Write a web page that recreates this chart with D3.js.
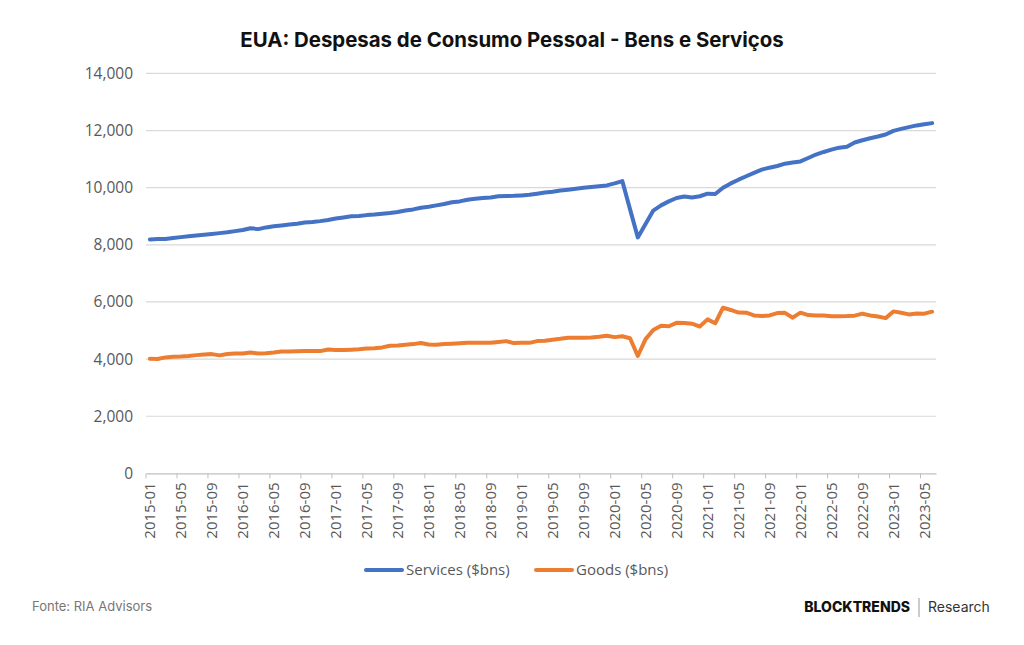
<!DOCTYPE html>
<html>
<head>
<meta charset="utf-8">
<script src="https://cdn.jsdelivr.net/npm/d3@7"></script>
<style>
  body { margin: 0; background: #fff; }
  svg text { font-family: "Open Sans", sans-serif; }
</style>
</head>
<body>
<div id="chart"></div>
<script>
// Monthly data, 2015-01 .. 2023-06 ($ billions, SAAR)
const months = [];
for (let y = 2015; y <= 2023; y++) {
  for (let m = 1; m <= 12; m++) {
    if (y === 2023 && m > 6) break;
    months.push(y + "-" + String(m).padStart(2, "0"));
  }
}

const services = [
  8190, 8200, 8205, 8240, 8270, 8300, 8330, 8355, 8380, 8410, 8440, 8480,
  8520, 8580, 8550, 8610, 8650, 8680, 8710, 8740, 8780, 8800, 8830, 8870,
  8920, 8960, 9000, 9010, 9040, 9060, 9090, 9115, 9150, 9200, 9240, 9300,
  9335, 9380, 9430, 9490, 9520, 9580, 9610, 9640, 9660, 9700, 9710, 9715,
  9730, 9750, 9790, 9830, 9860, 9900, 9930, 9960, 9995, 10020, 10050, 10080,
  10150, 10230, 9240, 8260, 8730, 9200, 9380, 9520, 9640, 9690, 9660, 9700,
  9790, 9780, 10000, 10150, 10280, 10400, 10520, 10630, 10700, 10760, 10840, 10880,
  10920, 11040, 11160, 11250, 11330, 11400, 11430, 11580, 11660, 11730, 11790, 11860,
  11990, 12060, 12120, 12180, 12220, 12260
];

const goods = [
  4010, 4005, 4060, 4080, 4090, 4110, 4140, 4165, 4175, 4130, 4180, 4195,
  4200, 4235, 4195, 4205, 4230, 4265, 4270, 4275, 4280, 4280, 4280, 4335,
  4320, 4315, 4330, 4345, 4370, 4380, 4410, 4470, 4480, 4500, 4525, 4565,
  4510, 4505, 4525, 4540, 4555, 4570, 4570, 4575, 4570, 4600, 4630, 4560,
  4575, 4570, 4630, 4640, 4680, 4710, 4750, 4750, 4750, 4755, 4780, 4820,
  4770, 4800, 4730, 4110, 4700, 5020, 5170, 5150, 5270, 5265, 5240, 5140,
  5390, 5255, 5800, 5720, 5630, 5625, 5530, 5505, 5530, 5610, 5620, 5450,
  5625, 5540, 5530, 5530, 5500, 5500, 5505, 5520, 5590, 5530, 5490, 5435,
  5670, 5625, 5565, 5600, 5590, 5660
];

const yTicks = [0, 2000, 4000, 6000, 8000, 10000, 12000, 14000];
const xTickLabels = months.filter((d, i) => i % 4 === 0);

const seriesNames = ["Services ($bns)", "Goods ($bns)"];
const seriesColors = ["#4472C4", "#ED7D31"];

const W = 1024, H = 645;
const margin = { top: 73.4, right: 88, bottom: 171.6, left: 146 };
const width = W - margin.left - margin.right;
const height = H - margin.top - margin.bottom;

const svg = d3.select("#chart").append("svg")
  .attr("width", W)
  .attr("height", H);

// Title
svg.append("text")
  .attr("x", 512)
  .attr("y", 47)
  .attr("text-anchor", "middle")
  .style("font-family", "Inter, sans-serif")
  .style("font-size", "20.4px")
  .style("font-weight", 700)
  .attr("fill", "#111")
  .text("EUA: Despesas de Consumo Pessoal - Bens e Serviços");

const g = svg.append("g")
  .attr("transform", "translate(" + margin.left + "," + margin.top + ")");

const x = d3.scaleBand()
  .domain(months)
  .range([0, width])
  .padding(0);

const y = d3.scaleLinear()
  .domain([0, 14000])
  .range([height, 0]);

const cx = d => x(d) + x.bandwidth() / 2;

// gridlines
g.selectAll(".grid")
  .data(yTicks.filter(d => d > 0))
  .enter().append("line")
  .attr("x1", 0)
  .attr("x2", width)
  .attr("y1", d => y(d))
  .attr("y2", d => y(d))
  .attr("stroke", "#d9d9d9")
  .attr("stroke-width", 1.2);

// y axis labels
const yAxis = g.append("g")
  .call(d3.axisLeft(y).tickValues(yTicks).tickFormat(d3.format(",")).tickSize(0).tickPadding(13));
yAxis.select(".domain").remove();
yAxis.selectAll("text")
  .style("font-size", "15.5px")
  .attr("fill", "#595959");

// x axis
const xAxis = g.append("g")
  .attr("transform", "translate(0," + height + ")")
  .call(d3.axisBottom(x).tickValues(xTickLabels).tickSize(5).tickSizeOuter(0));
xAxis.select(".domain").attr("stroke", "#bfbfbf").attr("stroke-width", 1.2);
xAxis.selectAll(".tick line")
  .attr("x1", -x.bandwidth() / 2)
  .attr("x2", -x.bandwidth() / 2)
  .attr("stroke", "#bfbfbf");
xAxis.selectAll(".tick text")
  .attr("transform", "rotate(-90)")
  .attr("text-anchor", "end")
  .attr("x", -9)
  .attr("y", 0)
  .attr("dy", "0.35em")
  .style("font-size", "15px")
  .attr("fill", "#595959");

// lines
const line = d3.line()
  .x((d, i) => cx(months[i]))
  .y(d => y(d));

[services, goods].forEach((s, k) => {
  g.append("path")
    .datum(s)
    .attr("fill", "none")
    .attr("stroke", seriesColors[k])
    .attr("stroke-width", 4)
    .attr("stroke-linejoin", "round")
    .attr("stroke-linecap", "round")
    .attr("d", line);
});

// legend
const legendX = [366, 536];
const legend = svg.append("g");
seriesNames.forEach((name, k) => {
  legend.append("line")
    .attr("x1", legendX[k])
    .attr("x2", legendX[k] + 36)
    .attr("y1", 570)
    .attr("y2", 570)
    .attr("stroke", seriesColors[k])
    .attr("stroke-width", 4)
    .attr("stroke-linecap", "round");
  legend.append("text")
    .attr("x", legendX[k] + 40)
    .attr("y", 570)
    .attr("dy", "0.35em")
    .style("font-size", "15px")
    .attr("fill", "#595959")
    .text(name);
});

// footer
svg.append("text")
  .attr("x", 32)
  .attr("y", 611)
  .style("font-family", "Inter, sans-serif")
  .style("font-size", "13px")
  .attr("fill", "#777")
  .text("Fonte: RIA Advisors");

svg.append("text")
  .attr("x", 910)
  .attr("y", 612)
  .attr("text-anchor", "end")
  .style("font-family", "Inter, sans-serif")
  .style("font-size", "14px")
  .style("font-weight", 800)
  .attr("fill", "#111")
  .text("BLOCKTRENDS");

svg.append("line")
  .attr("x1", 919).attr("x2", 919)
  .attr("y1", 598).attr("y2", 617)
  .attr("stroke", "#999")
  .attr("stroke-width", 1);

svg.append("text")
  .attr("x", 928)
  .attr("y", 612)
  .style("font-family", "Inter, sans-serif")
  .style("font-size", "14px")
  .attr("fill", "#333")
  .text("Research");
</script>
</body>
</html>
